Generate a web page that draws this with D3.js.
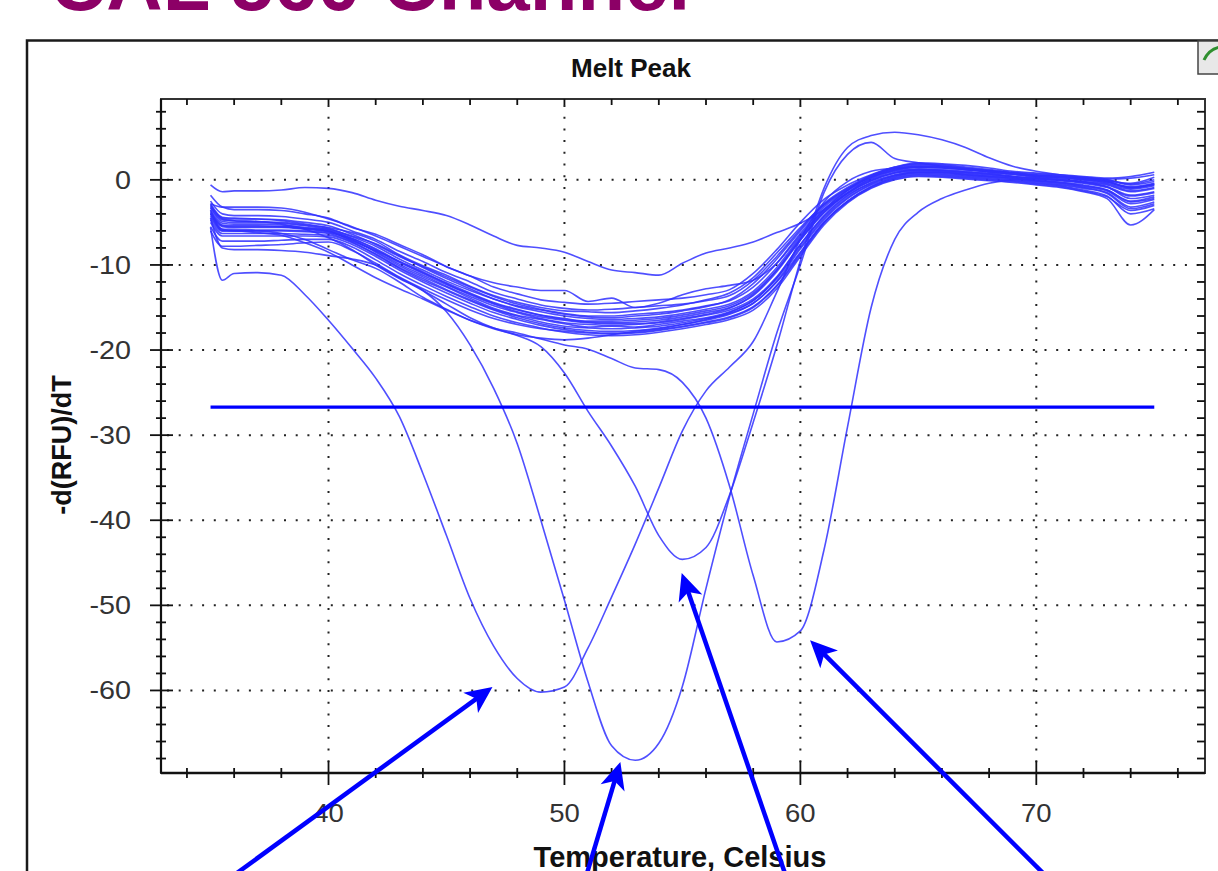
<!DOCTYPE html>
<html><head><meta charset="utf-8">
<script src="https://cdn.jsdelivr.net/npm/d3@7"></script>
<style>html,body{margin:0;padding:0;background:#fff;overflow:hidden}</style>
</head><body>
<svg id="c" width="1218" height="871"></svg>
<script>
// ---------------- DATA ----------------
const temperatures = [35,35.5,36,37,38,39,40,41,42,43,44,45,46,47,48,49,50,51,52,53,54,55,56,57,58,59,60,61,62,63,64,65,66,67,68,69,70,71,72,73,74,75];

const b01 = [-1.8,-3.2,-3.5,-3.5,-3.6,-4,-4.5,-5.6,-6.4,-7.6,-8.8,-10.2,-11.3,-12.6,-13.4,-14.1,-14.4,-14.6,-14.5,-14.3,-14.1,-13.9,-13.5,-12.9,-11,-8.2,-5,-2.3,-0.6,0.6,1.5,2,1.9,1.7,1.4,1,0.8,0.6,0.4,0.2,0.4,0.9];
const b02 = [-2.5,-4,-4.2,-4.2,-4.3,-4.6,-5,-6,-7,-8.4,-9.6,-10.9,-12,-13.2,-14,-14.7,-15.1,-15.3,-15.2,-15,-14.8,-14.6,-14.2,-13.6,-11.8,-9,-5.8,-2.8,-0.9,0.5,1.3,1.7,1.6,1.3,1,0.8,0.5,0.4,0.2,-0.1,-0.4,0.3];
const b03 = [-3,-4.5,-4.6,-4.6,-4.7,-5,-5.4,-6.4,-7.6,-9,-10.2,-11.4,-12.6,-13.7,-14.6,-15.2,-15.7,-16,-16,-15.8,-15.6,-15.3,-14.8,-14.2,-12.6,-9.8,-6.3,-3.2,-1.2,0.3,1.1,1.5,1.4,1.2,0.9,0.7,0.4,0.2,0,-0.3,-0.9,-0.5];
const b04 = [-3.2,-4.7,-4.8,-4.9,-5,-5.3,-5.7,-6.7,-7.8,-9.3,-10.6,-11.9,-13,-14,-14.9,-15.5,-16,-16.3,-16.4,-16.3,-16.1,-15.7,-15.2,-14.6,-13.1,-10.3,-6.7,-3.5,-1.3,0.1,1,1.3,1.2,1,0.8,0.6,0.3,0.1,-0.2,-0.6,-1.4,-1];
const b05 = [-3.6,-5.1,-5.2,-5.2,-5.3,-5.6,-5.9,-6.9,-8.1,-9.6,-10.9,-12.1,-13.3,-14.4,-15.2,-15.9,-16.4,-16.7,-16.8,-16.7,-16.5,-16.1,-15.6,-15,-13.6,-10.8,-7.1,-3.9,-1.6,-0.1,0.8,1.1,1,0.8,0.6,0.4,0.1,-0.1,-0.4,-0.9,-1.9,-1.5];
const b06 = [-4,-5.5,-5.6,-5.6,-5.6,-5.8,-6.1,-7.1,-8.4,-9.9,-11.2,-12.5,-13.7,-14.8,-15.6,-16.3,-16.8,-17,-17.1,-17,-16.8,-16.4,-15.9,-15.3,-14,-11.4,-7.6,-4.3,-1.9,-0.3,0.6,1,0.9,0.7,0.5,0.3,0,-0.3,-0.6,-1.2,-2.5,-2];
const b07 = [-4.4,-6,-6,-6,-6,-6.1,-6.3,-7.3,-8.7,-10.3,-11.6,-12.9,-14.1,-15.2,-16,-16.7,-17.2,-17.4,-17.5,-17.4,-17.2,-16.8,-16.3,-15.7,-14.5,-11.9,-8.1,-4.7,-2.2,-0.6,0.4,0.8,0.7,0.5,0.3,0.1,-0.2,-0.5,-0.9,-1.5,-3.2,-2.6];
const b08 = [-5,-6.6,-6.6,-6.6,-6.6,-6.6,-6.7,-7.6,-9,-10.6,-12,-13.3,-14.5,-15.6,-16.4,-17.1,-17.6,-17.9,-18,-17.9,-17.6,-17.2,-16.7,-16.1,-14.9,-12.4,-8.6,-5,-2.5,-0.8,0.2,0.6,0.5,0.3,0.1,-0.1,-0.4,-0.7,-1.2,-1.9,-4,-3.4];
const b09 = [-5.5,-7.2,-7.2,-7.2,-7.1,-7,-7,-7.9,-9.4,-11,-12.4,-13.7,-14.9,-16,-16.8,-17.4,-17.9,-18.2,-18.3,-18.2,-17.9,-17.5,-17,-16.4,-15.3,-12.8,-9,-5.3,-2.7,-1,0,0.4,0.3,0.1,-0.1,-0.3,-0.6,-0.9,-1.4,-2.2,-5.3,-3.5];
const b10 = [-6,-7.8,-7.8,-7.7,-7.6,-7.4,-7.3,-8.3,-9.8,-11.4,-12.8,-14.1,-15.3,-16.3,-17,-17.5,-17.8,-18,-18.1,-18,-17.7,-17.3,-16.8,-16.2,-15,-12.5,-8.8,-5.1,-2.6,-0.9,0.1,0.5,0.4,0.2,0,-0.2,-0.5,-0.8,-1.3,-2,-3.6,-3];
const b11 = [-2.8,-4.4,-4.5,-4.6,-4.8,-5.2,-5.6,-6.2,-7.2,-8.8,-10.1,-11.2,-12.5,-13.6,-14.4,-15,-15.4,-15.5,-15.6,-15.4,-15.1,-14.7,-14.1,-13.3,-11.5,-8.6,-5.6,-2.9,-1,0.4,1.4,1.8,1.7,1.4,1.1,0.8,0.6,0.4,0.1,-0.2,-0.8,-0.4];
const b12 = [-3.8,-5.3,-5.4,-5.4,-5.5,-5.7,-6,-7.2,-8.3,-9.6,-10.8,-12.2,-13.5,-14.6,-15.5,-16.1,-16.5,-16.8,-16.9,-16.9,-16.7,-16.3,-15.8,-15.1,-13.5,-10.6,-6.9,-3.7,-1.5,0,0.9,1.2,1.1,0.9,0.7,0.4,0.2,0,-0.3,-0.8,-2.2,-1.8];
const b13 = [-4.7,-6.3,-6.3,-6.3,-6.3,-6.4,-6.5,-7.4,-8.8,-10.4,-11.8,-13,-14.2,-15.3,-16.2,-16.9,-17.4,-17.7,-17.8,-17.7,-17.4,-17,-16.4,-15.6,-14.2,-11.6,-7.9,-4.5,-2.1,-0.5,0.5,0.9,0.8,0.6,0.4,0.2,-0.1,-0.4,-0.8,-1.3,-2.8,-2.3];
const b14 = [-3.3,-4.9,-5,-5,-5.1,-5.4,-5.8,-6.6,-7.5,-8.9,-10.3,-11.6,-12.8,-14,-14.8,-15.3,-15.8,-16.1,-16.2,-16,-15.8,-15.4,-14.9,-14.1,-12.2,-9.3,-6,-3,-1.1,0.3,1.2,1.6,1.5,1.2,1,0.7,0.5,0.3,0,-0.4,-1.1,-0.7];
const b15 = [-4.2,-5.8,-5.8,-5.9,-5.9,-6,-6.2,-7,-8.5,-10.1,-11.4,-12.6,-13.9,-15.1,-15.9,-16.4,-16.9,-17.3,-17.2,-17.3,-17,-16.6,-16.2,-15.5,-14.2,-11.5,-7.6,-4.2,-1.8,-0.4,0.5,0.9,0.9,0.6,0.4,0.2,-0.1,-0.3,-0.7,-1.2,-2.6,-2.2];
const b16 = [-3.9,-5.4,-5.5,-5.5,-5.5,-5.7,-6,-6.9,-8.2,-9.7,-11,-12.3,-13.4,-14.5,-15.3,-15.9,-16.3,-16.6,-16.6,-16.5,-16.3,-15.9,-15.4,-14.8,-13.3,-10.6,-7,-3.8,-1.6,-0.1,0.8,1.2,1.1,0.9,0.7,0.4,0.2,0,-0.3,-0.8,-1.8,-1.4];
const lowWell = [-4.5,-8,-8.2,-8.2,-8.3,-8.5,-8.9,-9.3,-10,-11.5,-13,-14.6,-16.2,-17.4,-18.2,-18.6,-18.8,-18.6,-18.2,-17.8,-17.5,-17,-16.5,-15.8,-14.5,-12,-8.5,-5,-2.5,-0.8,0.3,0.7,0.6,0.4,0.2,0,-0.3,-0.6,-1,-1.6,-3.4,-2.8];
const highWell1 = [-0.6,-1.4,-1.3,-1.3,-1.2,-0.9,-1,-1.5,-2.4,-3.1,-3.6,-4.2,-5.3,-6.6,-7.7,-8,-8.5,-9.6,-10.6,-10.9,-11.2,-9.8,-8.6,-8,-7.3,-6.2,-5.1,-3.5,-1.5,0.2,1.2,1.5,1.5,1.3,1.1,0.8,0.5,0.4,0.2,0,-0.5,0];
const highWell2 = [-2.8,-3.2,-3.2,-3.2,-3.3,-3.8,-4.6,-5.5,-6.6,-7.8,-9,-10.2,-11.3,-12.1,-12.6,-13,-13,-14.3,-13.9,-15,-14.5,-13.5,-12.8,-12.4,-11.8,-9.8,-6.5,-3.5,-1.2,0.5,1.5,1.9,1.8,1.5,1.2,0.9,0.7,0.5,0.3,0.1,0.2,0.6];
const peakA = [-5.6,-11.8,-11,-10.9,-11.2,-13.5,-16.5,-19.8,-23.3,-27.8,-34.5,-41.8,-49.2,-54.8,-58.6,-60.2,-59.6,-55,-49,-42.8,-36.2,-29.5,-24.8,-22,-19,-13.2,-7,-2.6,-0.2,1,1.4,1.5,1.4,1.2,1,0.7,0.4,0.3,0.1,-0.2,-0.9,-0.6];
const peakB = [-3,-4.6,-4.8,-4.9,-5.2,-5.8,-6.8,-8.2,-10,-11.6,-13,-15.5,-19.4,-24.5,-31,-40,-49.4,-59,-66.5,-68.2,-66.2,-59.5,-48,-37.2,-27.5,-18,-10,-1.5,3,4.4,2.5,2,1.6,1.3,1,0.8,0.5,0.3,0.1,-0.2,-1,-0.5];
const peakC = [-4,-5.8,-6,-6,-6.3,-7,-8.2,-9.4,-10.4,-12,-13.8,-15.2,-16.5,-17.5,-18.3,-19.6,-22.7,-27.2,-31.3,-36,-41.8,-44.6,-43.2,-37,-28.5,-19.5,-9.5,-1,3.8,5.2,5.6,5.3,4.7,3.8,2.6,1.6,1,0.6,0.3,0,-0.6,-0.2];
const peakD = [-3.5,-6,-6,-6.2,-6.5,-7.4,-8.5,-10,-11.5,-12.8,-14,-15.3,-16.5,-17.4,-18,-18.7,-19.4,-19.9,-21,-22.1,-22.3,-23.8,-28,-36,-46.5,-54.3,-53,-43.5,-29,-15,-7,-3.8,-2.2,-1.2,-0.4,0,0.1,0,-0.2,-0.5,-1.3,-0.9];

const seriesList = [b01,b02,b03,b04,b05,b06,b07,b08,b09,b10,b11,b12,b13,b14,b15,b16,lowWell,highWell1,highWell2,peakA,peakB,peakC,peakD];

const thresholdValue = -26.7;
const thresholdSpan = [35, 75];

const xTickLabels = [40, 50, 60, 70];
const yTickLabels = [0, -10, -20, -30, -40, -50, -60];

// arrow annotations (data units): head and tail
const arrowHeadT = [46.95, 52.37, 54.97, 60.41];
const arrowHeadV = [-59.6, -68.4, -46.2, -54.1];
const arrowTailT = [35.85, 50.9, 59.41, 70.48];
const arrowTailV = [-82, -82, -82, -82];

const chartTitle = "Melt Peak";
const xTitle = "Temperature, Celsius";
const yTitle = "-d(RFU)/dT";
const slideHeading = "CAL 560 Channel";

// ---------------- DRAW ----------------
const svg = d3.select('#c');
const FONT = "'Liberation Sans', Arial, Helvetica, sans-serif";
const P = {left:161, top:99, right:1205, bottom:773};
const x = d3.scaleLinear().domain([32.9, 77.15]).range([P.left, P.right]);
const y = d3.scaleLinear().domain([-69.7, 9.5]).range([P.bottom, P.top]);

svg.append('rect').attr('width',1218).attr('height',871).attr('fill','#fff');

// slide heading (cut off at top, as in the slide)
svg.append('text').attr('x',50).attr('y',10)
  .attr('font-family',FONT).attr('font-weight','bold').attr('font-size',78)
  .attr('fill','#8c0066').text(slideHeading);

// stray glyph of the slide at the left edge
svg.append('text').attr('x',-14).attr('y',704)
  .attr('font-family',FONT).attr('font-weight','bold').attr('font-size',46)
  .attr('fill','#111').text(')');

// outer panel frame
svg.append('rect').attr('x',27).attr('y',40.5).attr('width',1260).attr('height',900)
  .attr('fill','none').attr('stroke','#1a1a1a').attr('stroke-width',2.5);
// corner icon
svg.append('rect').attr('x',1198).attr('y',41).attr('width',30).attr('height',33)
  .attr('fill','#e8e8e8').attr('stroke','#444').attr('stroke-width',1.5);
svg.append('path').attr('d','M1204,60 Q1209,49 1220,47')
  .attr('fill','none').attr('stroke','#2f8f2f').attr('stroke-width',3);

// title
svg.append('text').attr('x',631).attr('y',77).attr('text-anchor','middle')
  .attr('font-family',FONT).attr('font-weight','bold').attr('font-size',26)
  .attr('fill','#111').text(chartTitle);

// grid (dotted)
const grid = svg.append('g');
grid.selectAll('line.gx').data(xTickLabels).join('line')
  .attr('x1',d=>x(d)).attr('x2',d=>x(d)).attr('y1',P.top+6).attr('y2',P.bottom)
  .attr('stroke','#222').attr('stroke-width',2).attr('stroke-dasharray','2,9.7');
grid.selectAll('line.gy').data(yTickLabels).join('line')
  .attr('x1',P.left+6).attr('x2',P.right).attr('y1',d=>y(d)).attr('y2',d=>y(d))
  .attr('stroke','#222').attr('stroke-width',2).attr('stroke-dasharray','2,9.7');

// frame
svg.append('rect').attr('x',P.left).attr('y',P.top).attr('width',P.right-P.left).attr('height',P.bottom-P.top)
  .attr('fill','none').attr('stroke','#333').attr('stroke-width',2);
svg.append('line').attr('x1',P.left).attr('x2',P.left).attr('y1',P.top).attr('y2',P.bottom)
  .attr('stroke','#111').attr('stroke-width',2.2);
svg.append('line').attr('x1',P.left).attr('x2',P.right).attr('y1',P.bottom).attr('y2',P.bottom)
  .attr('stroke','#111').attr('stroke-width',2.6);

// ticks
const yMinor = d3.range(-68, 9, 2);
const xMinor = d3.range(34, 77, 2);
const isMajor = v => Math.abs(v % 10) < 1e-9;
const tk = svg.append('g').attr('stroke','#111').attr('stroke-width',1.8);
tk.selectAll('line.yl').data(yMinor).join('line')
  .attr('x1',d=>P.left-(isMajor(d)?11:5)).attr('x2',d=>P.left+(isMajor(d)?12:5))
  .attr('y1',d=>y(d)).attr('y2',d=>y(d));
tk.selectAll('line.yr').data(yMinor).join('line')
  .attr('x1',P.right-8).attr('x2',P.right).attr('y1',d=>y(d)).attr('y2',d=>y(d));
tk.selectAll('line.xb').data(xMinor).join('line')
  .attr('x1',d=>x(d)).attr('x2',d=>x(d))
  .attr('y1',d=>P.bottom-(isMajor(d)?12:5)).attr('y2',d=>P.bottom+(isMajor(d)?12:5));
tk.selectAll('line.xt').data(xMinor).join('line')
  .attr('x1',d=>x(d)).attr('x2',d=>x(d)).attr('y1',P.top).attr('y2',P.top+6);

// tick labels (slightly wide, as in the original rendering)
svg.selectAll('text.yt').data(yTickLabels).join('text')
  .attr('transform',d=>`translate(131,${y(d)+9}) scale(1.15,1)`).attr('text-anchor','end')
  .attr('font-family',FONT).attr('font-size',25).attr('fill','#333').text(d=>d);
svg.selectAll('text.xt').data(xTickLabels).join('text')
  .attr('transform',d=>`translate(${x(d)},822) scale(1.1,1)`).attr('text-anchor','middle')
  .attr('font-family',FONT).attr('font-size',25).attr('fill','#333').text(d=>d);

// axis titles
svg.append('text').attr('transform','translate(71,445) rotate(-90)').attr('text-anchor','middle')
  .attr('font-family',FONT).attr('font-weight','bold').attr('font-size',27).attr('fill','#111').text(yTitle);
svg.append('text').attr('x',680).attr('y',867).attr('text-anchor','middle')
  .attr('font-family',FONT).attr('font-weight','bold').attr('font-size',29).attr('fill','#111').text(xTitle);

// curves
const line = d3.line().x((d,i)=>x(temperatures[i])).y(d=>y(d)).curve(d3.curveMonotoneX);
svg.append('g').selectAll('path').data(seriesList).join('path')
  .attr('d',line).attr('fill','none').attr('stroke','#3030ff')
  .attr('stroke-width',1.6).attr('stroke-opacity',0.85).attr('stroke-linejoin','round');

// threshold line
svg.append('line').attr('x1',x(thresholdSpan[0])).attr('x2',x(thresholdSpan[1]))
  .attr('y1',y(thresholdValue)).attr('y2',y(thresholdValue))
  .attr('stroke','#0000ff').attr('stroke-width',3.2);

// arrows
const ag = svg.append('g');
arrowHeadT.forEach((t,i)=>{
  const hx=x(t), hy=y(arrowHeadV[i]), tx=x(arrowTailT[i]), ty=y(arrowTailV[i]);
  const ang=Math.atan2(hy-ty,hx-tx);
  const sx=hx-18*Math.cos(ang), sy=hy-18*Math.sin(ang);
  ag.append('line').attr('x1',tx).attr('y1',ty).attr('x2',sx).attr('y2',sy)
    .attr('stroke','#0000ff').attr('stroke-width',4.5);
  ag.append('path').attr('d','M0,0 L-27,-12.5 L-20,0 L-27,12.5 Z')
    .attr('transform',`translate(${hx},${hy}) rotate(${ang*180/Math.PI})`)
    .attr('fill','#0000ff');
});
</script>
</body></html>
